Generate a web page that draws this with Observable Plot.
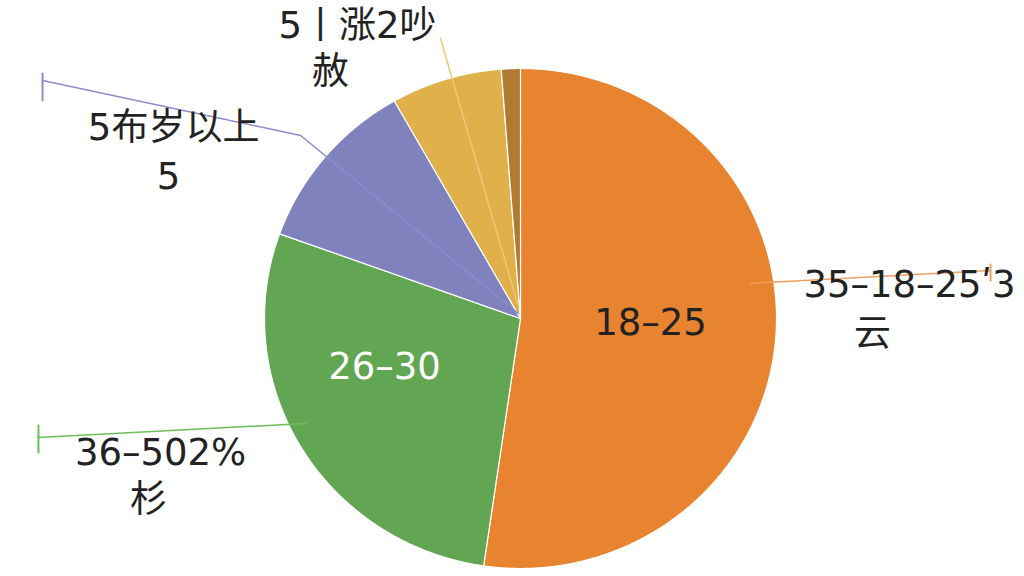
<!DOCTYPE html>
<html>
<head>
<meta charset="utf-8">
<script src="https://cdn.jsdelivr.net/npm/d3@7"></script>
<script src="https://cdn.jsdelivr.net/npm/@observablehq/plot@0.6"></script>
<style>
  html, body { margin: 0; padding: 0; background: #fff; }
  #chart { width: 1024px; height: 576px; }
</style>
</head>
<body>
<div id="chart"></div>
<script>
// ---- data ----
const categories = ["18-25", "26-30", "51岁以上", "36-50", "31-35"];
const values = [52.3, 28.2, 11.3, 7.0, 1.2];
const colors = ["#E8832F", "#62A552", "#7F82BD", "#E0B04A", "#B07A32"];
const insideLabels = ["18–25", "26–30"];
const outsideLine1 = ["35–18–25ʹ3", "36–502%", "5布岁以上", "5丨涨2吵"];
const outsideLine2 = ["云", "杉", "5", "赦"];

// ---- layout (pie-radius units) ----
const insidePos = [[0.508, -0.02, "#222"], [-0.531, -0.196, "#fff"]];
const outsidePos1 = [[1.105, 0.132, "start"], [-1.406, -0.54, "middle"], [-1.355, 0.76, "middle"], [-0.637, 1.168, "middle"]];
const outsidePos2 = [[1.375, -0.064], [-1.453, -0.728], [-1.375, 0.564], [-0.742, 0.984]];
const leaders = [
  {c: "#F0A05E", pts: [[0.898, 0.14], [1.836, 0.192]], tick: [[1.836, 0.216], [1.836, 0.152]]},
  {c: "#6DBE5C", pts: [[-1.883, -0.476], [-0.84, -0.42]], tick: [[-1.883, -0.428], [-1.883, -0.536]]},
  {c: "#8A8CCB", pts: [[-1.867, 0.952], [-0.859, 0.732], [-0.008, 0.02]], tick: [[-1.867, 0.98], [-1.867, 0.872]]},
  {c: "#EDC877", pts: [[-0.3125, 1.12], [-0.0117, 0.06]], tick: null}
];

// ---- build slice polygons ----
const arcs = d3.pie().sort(null).value(d => d)(values);
const polys = [];
arcs.forEach((a, i) => {
  polys.push({i, x: 0, y: 0});
  const n = Math.max(2, Math.ceil((a.endAngle - a.startAngle) / 0.005));
  for (let k = 0; k <= n; k++) {
    const t = a.startAngle + (a.endAngle - a.startAngle) * k / n;
    polys.push({i, x: Math.sin(t), y: Math.cos(t)});
  }
  polys.push({i, x: 0, y: 0});
});

const leaderPts = [];
leaders.forEach((l, j) => {
  l.pts.forEach(p => leaderPts.push({j, c: l.c, x: p[0], y: p[1]}));
});
const tickPts = [];
leaders.forEach((l, j) => {
  if (l.tick) l.tick.forEach(p => tickPts.push({j, c: l.c, x: p[0], y: p[1]}));
});

const font = "DejaVu Sans, 'Noto Sans CJK SC', sans-serif";
const inData = insideLabels.map((t, i) => ({t, x: insidePos[i][0], y: insidePos[i][1], c: insidePos[i][2]}));
const out1 = outsideLine1.map((t, i) => ({t, x: outsidePos1[i][0], y: outsidePos1[i][1], a: outsidePos1[i][2]}));
const out2 = outsideLine2.map((t, i) => ({t, x: outsidePos2[i][0], y: outsidePos2[i][1]}));

const chart = Plot.plot({
  width: 1024,
  height: 576,
  margin: 0,
  x: {domain: [-520 / 256, 504 / 256], axis: null},
  y: {domain: [-(576 - 318) / 250, 318 / 250], axis: null},
  color: {domain: categories, range: colors},
  marks: [
    Plot.line(polys, {x: "x", y: "y", z: "i", fill: d => categories[d.i], stroke: "#fff", strokeWidth: 1.2, curve: "linear"}),
    Plot.line(leaderPts, {x: "x", y: "y", z: "j", stroke: "c", strokeWidth: 1.5}),
    Plot.line(tickPts, {x: "x", y: "y", z: "j", stroke: "c", strokeWidth: 2}),
    Plot.text(inData, {x: "x", y: "y", text: "t", fill: "c", fontSize: 37, fontFamily: font}),
    Plot.text(out1.filter(d => d.a === "start"), {x: "x", y: "y", text: "t", fill: "#222", fontSize: 37, fontFamily: font, textAnchor: "start"}),
    Plot.text(out1.filter(d => d.a === "middle"), {x: "x", y: "y", text: "t", fill: "#222", fontSize: 37, fontFamily: font}),
    Plot.text(out2, {x: "x", y: "y", text: "t", fill: "#222", fontSize: 37, fontFamily: font})
  ]
});
chart.setAttribute("style", "font-family: DejaVu Sans, 'Noto Sans CJK SC', sans-serif;");
document.getElementById("chart").appendChild(chart);
</script>
</body>
</html>
